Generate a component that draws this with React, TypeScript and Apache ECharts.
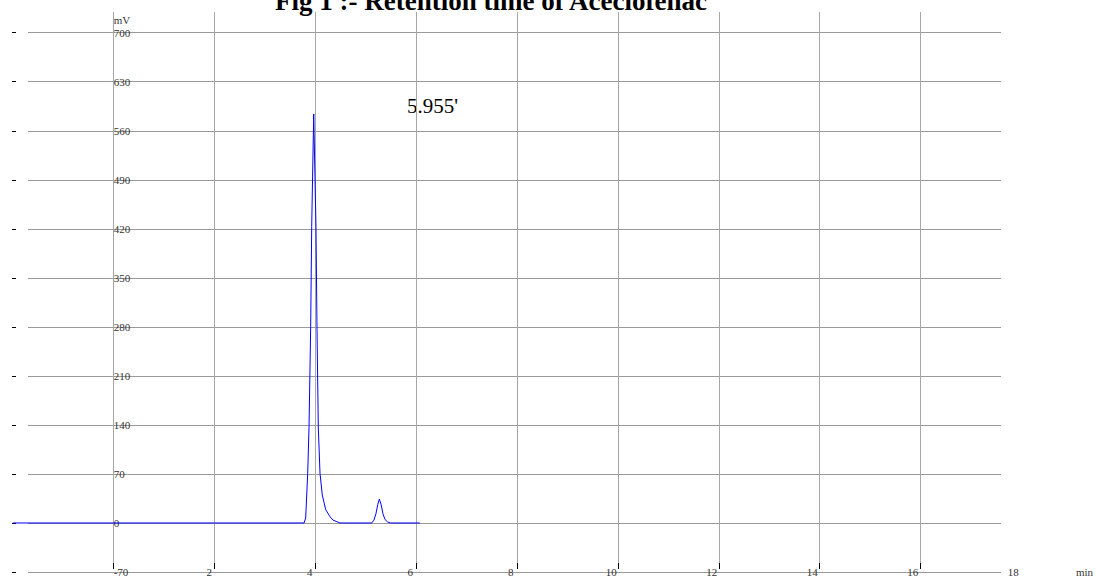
import React, { useEffect, useRef } from "react";
import * as echarts from "echarts";

// ---- data ----
const TITLE = "Fig 1 :- Retention time of Aceclofenac";
const PEAK_LABEL = "5.955'";
const Y_UNIT = "mV";
const X_UNIT = "min";

// retention time (min) and detector signal (mV)
const TIME = [
  -2.0, 3.774, 3.807, 3.847, 3.873, 3.906, 3.926, 3.966, 4.011, 4.031, 4.057,
  4.091, 4.136, 4.204, 4.289, 4.35, 4.422, 4.487, 5.116, 5.16, 5.2, 5.235,
  5.267, 5.3, 5.34, 5.38, 5.43, 5.49, 6.07,
];
const SIGNAL = [
  0, 0, 7, 71, 136, 280, 423, 584, 423, 280, 137, 71, 40, 19, 9, 4, 2, 0, 0, 4,
  13, 26, 34, 27, 13, 5, 1.5, 0, 0,
];

const Y_MIN = -70;
const Y_MAX = 700;
const Y_STEP = 70;
const X_TICK_MAX = 16;
const X_LABEL_MAX = 18;
const X_STEP = 2;

// ---- layout (pixels) ----
const W = 1096;
const H = 579;
const X0 = 113.7; // pixel of t = 0
const PX_PER_MIN = 50.43;
const PLOT_LEFT = 28;
const PLOT_RIGHT = 1001;
const TRACE_LEFT = 13;
const Y_TOP = 32.7; // pixel of 700
const Y_BOTTOM = 572; // pixel of -70
const VLINE_TOP = 12;
const VLINE_BOTTOM = 563;

const FONT = '"Liberation Serif", "Times New Roman", serif';

export default function App() {
  const ref = useRef<HTMLDivElement>(null);

  useEffect(() => {
    if (!ref.current) return;
    const chart = echarts.init(ref.current, undefined, { renderer: "svg" });

    const data = TIME.map((t, i) => [t, SIGNAL[i]]);
    const xsMin = (TRACE_LEFT - X0) / PX_PER_MIN;
    const xsMax = (PLOT_RIGHT - X0) / PX_PER_MIN;
    const tickRightPx = X0 + X_TICK_MAX * PX_PER_MIN;
    const labelRightPx = X0 + X_LABEL_MAX * PX_PER_MIN - 5;

    const option: any = {
      animation: false,
      backgroundColor: "#fff",
      grid: [
        // 0: horizontal grid lines + y labels
        {
          left: PLOT_LEFT,
          right: W - PLOT_RIGHT,
          top: Y_TOP,
          bottom: H - Y_BOTTOM,
        },
        // 1: vertical grid lines + x ticks
        {
          left: X0,
          right: W - tickRightPx,
          top: VLINE_TOP,
          bottom: H - VLINE_BOTTOM,
        },
        // 2: x labels
        {
          left: X0 - 5,
          right: W - labelRightPx,
          top: VLINE_TOP,
          bottom: H - Y_BOTTOM + 0.5,
        },
        // 3: trace
        {
          left: TRACE_LEFT,
          right: W - PLOT_RIGHT,
          top: Y_TOP,
          bottom: H - Y_BOTTOM,
        },
      ],
      xAxis: [
        { gridIndex: 0, type: "value", min: 0, max: 1, show: false },
        {
          gridIndex: 1,
          type: "value",
          min: 0,
          max: X_TICK_MAX,
          interval: X_STEP,
          offset: Y_BOTTOM - VLINE_BOTTOM,
          axisLine: { show: false },
          axisTick: { show: true, length: 6, lineStyle: { color: "#000", width: 1 } },
          axisLabel: { show: false },
          splitLine: { show: true, lineStyle: { color: "#a6a6a6", width: 1 } },
        },
        {
          gridIndex: 2,
          type: "value",
          min: 0,
          max: X_LABEL_MAX,
          interval: X_STEP,
          axisLine: { show: false },
          axisTick: { show: false },
          splitLine: { show: false },
          axisLabel: {
            show: true,
            margin: 0,
            verticalAlign: "middle",
            fontSize: 11,
            fontFamily: FONT,
            color: "#333",
            showMinLabel: false,
            showMaxLabel: true,
            formatter: (v: number) => (v === 0 ? "" : String(v)),
          },
          name: X_UNIT,
          nameLocation: "end",
          nameGap: 1079 - labelRightPx,
          nameTextStyle: {
            fontSize: 11,
            fontFamily: FONT,
            color: "#333",
            align: "left",
            verticalAlign: "middle",
          },
        },
        { gridIndex: 3, type: "value", min: xsMin, max: xsMax, show: false },
      ],
      yAxis: [
        {
          gridIndex: 0,
          type: "value",
          min: Y_MIN,
          max: Y_MAX,
          interval: Y_STEP,
          position: "left",
          offset: -(X0 - PLOT_LEFT),
          axisLine: { show: false },
          axisTick: { show: false },
          splitLine: { show: true, lineStyle: { color: "#999", width: 1 } },
          axisLabel: {
            inside: true,
            margin: 0,
            fontSize: 11,
            fontFamily: FONT,
            color: "#333",
          },
          name: Y_UNIT,
          nameLocation: "end",
          nameGap: 7,
          nameTextStyle: {
            fontSize: 11,
            fontFamily: FONT,
            color: "#333",
            align: "left",
          },
        },
        {
          gridIndex: 0,
          type: "value",
          min: Y_MIN,
          max: Y_MAX,
          interval: Y_STEP,
          position: "left",
          offset: 12,
          axisLine: { show: false },
          axisTick: { show: true, length: 4, lineStyle: { color: "#000", width: 1 } },
          axisLabel: { show: false },
          splitLine: { show: false },
        },
        { gridIndex: 1, type: "value", show: false, min: 0, max: 1 },
        { gridIndex: 2, type: "value", show: false, min: 0, max: 1 },
        { gridIndex: 3, type: "value", show: false, min: Y_MIN, max: Y_MAX },
      ],
      series: [
        {
          type: "line",
          xAxisIndex: 3,
          yAxisIndex: 4,
          data,
          showSymbol: false,
          symbol: "none",
          lineStyle: { color: "#0000ff", width: 1 },
          z: 5,
        },
      ],
      graphic: [
        {
          type: "text",
          x: 491,
          y: 1,
          style: {
            text: TITLE,
            font: `bold 27px ${FONT}`,
            fill: "#000",
            align: "center",
            verticalAlign: "middle",
          },
        },
        {
          type: "text",
          x: 407,
          y: 106,
          style: {
            text: PEAK_LABEL,
            font: `21px ${FONT}`,
            fill: "#000",
            align: "left",
            verticalAlign: "middle",
          },
        },
      ],
    };

    chart.setOption(option);
    return () => chart.dispose();
  }, []);

  return (
    <div
      ref={ref}
      style={{ position: "fixed", left: 0, top: 0, width: W, height: H }}
    />
  );
}
